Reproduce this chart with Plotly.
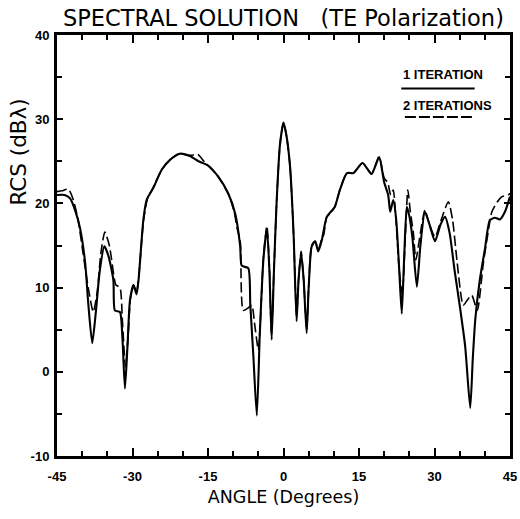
import plotly.graph_objects as go

# --- data ---
angle_1 = [-45, -43.5, -42.4, -41.3, -40.4, -39.4, -38.8, -38.0, -37.3, -36.5, -35.6, -34.8,
           -33.8, -33.5, -32.5, -32.0, -31.5, -31.0, -30.5, -29.8, -29.2, -28.8, -27.85, -27.2,
           -25.9, -24.2, -22.5, -20.6, -18.5, -16.9, -15.0, -13.0, -11.0, -9.6, -8.6, -8.3,
           -7.0, -6.6, -6.0, -5.3, -4.7, -4.0, -3.3, -2.8, -2.35, -1.9, -1.35, -0.7, 0.0, 0.6,
           1.3, 2.0, 2.6, 3.0, 3.5, 4.0, 4.6, 5.0, 5.6, 6.3, 6.9, 7.6, 8.6, 10.2, 11.2, 12.6,
           13.9, 15.7, 17.5, 19.0, 20.0, 20.8, 21.2, 21.8, 22.4, 23.0, 23.5, 24.0, 24.5, 25.0,
           25.6, 26.5, 27.2, 28.1, 29.0, 30.1, 31.2, 32.1, 33.0, 34.0, 35.1, 36.1, 37.1, 37.6,
           38.1, 39.0, 40.0, 41.0, 42.0, 43.0, 44.0, 45.0]
rcs_1 = [21.0, 21.0, 20.6, 19.0, 17.0, 12.9, 8.2, 3.4, 7.0, 12.0, 14.9, 13.8,
         10.9, 7.3, 7.1, 4.0, -2.0, 3.0, 8.5, 10.3, 9.2, 10.9, 18.0, 20.4,
         21.8, 24.0, 25.2, 25.9, 25.6, 25.0, 24.5, 23.2, 21.2, 18.8, 14.9, 12.6,
         12.3, 8.0, 2.0, -5.2, 4.6, 13.3, 17.0, 12.0, 3.8, 12.0, 20.4, 27.0, 29.6, 28.0,
         24.4, 16.4, 6.0, 11.0, 14.1, 11.0, 4.6, 10.0, 14.9, 15.5, 14.3, 15.6, 18.4, 19.6, 21.6, 23.6,
         23.6, 24.8, 23.5, 25.5, 22.5, 21.0, 19.0, 20.4, 18.0, 12.0, 6.9, 14.0, 19.6, 18.5,
         16.0, 10.1, 15.0, 19.0, 17.5, 15.5, 17.5, 18.4, 16.5, 12.0, 7.5, 3.0, -4.3, 1.5,
         6.2, 10.9, 14.5, 18.0, 18.3, 18.1, 19.0, 20.8]

angle_2 = [-45, -44.0, -42.75, -41.8, -40.8, -39.8, -38.8, -37.8, -37.0, -36.3, -35.5, -34.6,
           -33.6, -33.3, -32.5, -32.0, -31.4, -30.9, -30.4, -29.8, -29.2, -28.8, -27.8, -27.0,
           -25.8, -24.2, -22.5, -20.6, -18.5, -17.0, -15.8, -13.0, -11.0, -9.8, -9.2, -8.6,
           -8.0, -7.0, -6.3, -5.7, -5.0, -4.6, -4.0, -3.3, -2.8, -2.4, -1.9, -1.35, -0.7, 0.0,
           0.6, 1.3, 2.0, 2.6, 3.0, 3.5, 4.0, 4.6, 5.0, 5.6, 6.3, 6.9, 7.6, 8.0, 8.6, 9.3,
           10.2, 11.2, 12.6, 13.9, 15.7, 17.5, 19.0, 20.0, 20.7, 21.3, 21.8, 22.4, 23.0, 23.6,
           24.2, 24.7, 25.2, 25.8, 26.3, 27.2, 28.1, 29.0, 30.1, 31.3, 32.75, 33.6, 34.5, 35.7,
           36.5, 37.4, 38.5, 39.7, 40.5, 41.4, 42.5, 43.4, 44.7, 45.0]
rcs_2 = [21.4, 21.5, 21.7, 20.5, 18.0, 14.0, 10.0, 7.1, 9.5, 14.0, 16.6, 15.0,
         11.0, 10.3, 10.0, 6.0, 0.6, 4.0, 8.8, 10.3, 9.5, 11.0, 18.0, 20.6,
         22.0, 24.0, 25.2, 25.9, 25.7, 25.8, 25.0, 23.2, 21.2, 19.0, 17.0, 15.5,
         7.3, 7.6, 7.9, 5.5, 2.6, 6.0, 13.5, 17.3, 12.5, 4.5, 12.0, 20.4, 27.0, 29.6,
         28.0, 24.4, 16.4, 6.5, 11.0, 14.3, 11.0, 5.0, 10.0, 15.0, 15.5, 14.5, 15.8, 16.3, 18.4, 18.8,
         19.6, 21.6, 23.6, 23.6, 24.8, 23.5, 25.6, 23.0, 22.5, 21.0, 21.6, 17.5, 12.0, 9.2,
         16.0, 21.6, 19.0, 16.5, 13.3, 16.5, 19.2, 17.5, 16.0, 18.0, 20.2, 18.0, 13.0, 7.9,
         8.5, 9.1, 7.3, 12.9, 16.0, 19.0, 20.2, 20.8, 21.0, 21.2]

x_ticks = [-45, -30, -15, 0, 15, 30, 45]
x_tick_labels = ["-45", "-30", "-15", "0", "15", "30", "45"]
y_ticks = [-10, 0, 10, 20, 30, 40]
y_tick_labels = ["-10", "0", "10", "20", "30", "40"]

title_text = "SPECTRAL SOLUTION&nbsp;&nbsp;&nbsp;(TE Polarization)"
x_title = "ANGLE (Degrees)"
y_title = "RCS (dBλ)"
legend_1 = "1 ITERATION"
legend_2 = "2 ITERATIONS"

fig = go.Figure()
fig.add_trace(go.Scatter(x=angle_2, y=rcs_2, mode="lines",
                         line=dict(color="black", width=1.6, dash="10px,4px",
                                   shape="spline", smoothing=0.6),
                         showlegend=False, hoverinfo="skip"))
fig.add_trace(go.Scatter(x=angle_1, y=rcs_1, mode="lines",
                         line=dict(color="black", width=2.1, shape="spline", smoothing=0.6),
                         showlegend=False, hoverinfo="skip"))

tickfont = dict(family="Liberation Sans Narrow, Arial Narrow, sans-serif", size=13,
                color="black", weight="bold")
titlefam = "DejaVu Sans, Liberation Sans, sans-serif"

fig.update_xaxes(range=[-45, 45], tickvals=x_ticks, ticktext=x_tick_labels,
                 ticks="inside", ticklen=8, tickwidth=2, tickcolor="black",
                 minor=dict(dtick=5, tick0=0, ticks="inside", ticklen=5, tickwidth=1.5,
                            tickcolor="black"),
                 showline=True, linewidth=3, linecolor="black", mirror="ticks",
                 showgrid=False, zeroline=False, tickfont=tickfont, ticklabelstandoff=6,
                 automargin=False,
                 title=dict(text=x_title, standoff=9,
                            font=dict(family=titlefam, size=17.5, color="black")))
fig.update_yaxes(range=[-10, 40], tickvals=y_ticks, ticktext=y_tick_labels,
                 ticks="inside", ticklen=6, tickwidth=2, tickcolor="black",
                 minor=dict(dtick=5, tick0=0, ticks="inside", ticklen=5, tickwidth=1.5,
                            tickcolor="black"),
                 showline=True, linewidth=3, linecolor="black", mirror="ticks",
                 showgrid=False, zeroline=False, tickfont=tickfont, ticklabelstandoff=2,
                 automargin=False)

fig.update_layout(
    width=520, height=519,
    margin=dict(l=57, r=10, t=35, b=63),
    paper_bgcolor="white", plot_bgcolor="white",
    title=dict(text=title_text, x=0.545, xanchor="center", y=0.966, yanchor="middle",
               font=dict(family=titlefam, size=22.5, color="black")),
    showlegend=False,
)

# y-axis title placed high on the left, as in the reference
fig.add_annotation(xref="paper", yref="paper", x=-0.085, y=0.722, text=y_title,
                   textangle=-90, showarrow=False, xanchor="center", yanchor="middle",
                   font=dict(family=titlefam, size=21.5, color="black"))

legfont = dict(family="Liberation Sans Narrow, Arial Narrow, sans-serif", size=13,
               color="black", weight="bold")
fig.add_annotation(xref="paper", yref="paper", x=0.851, y=0.905, text=legend_1,
                   showarrow=False, font=legfont, xanchor="center", yanchor="middle")
fig.add_annotation(xref="paper", yref="paper", x=0.861, y=0.833, text=legend_2,
                   showarrow=False, font=legfont, xanchor="center", yanchor="middle")
fig.add_shape(type="line", xref="paper", yref="paper", x0=0.760, x1=0.922, y0=0.873, y1=0.873,
              line=dict(color="black", width=2))
fig.add_shape(type="line", xref="paper", yref="paper", x0=0.768, x1=0.916, y0=0.805, y1=0.805,
              line=dict(color="black", width=2, dash="11px,3px"))

fig.write_html("out.html")
